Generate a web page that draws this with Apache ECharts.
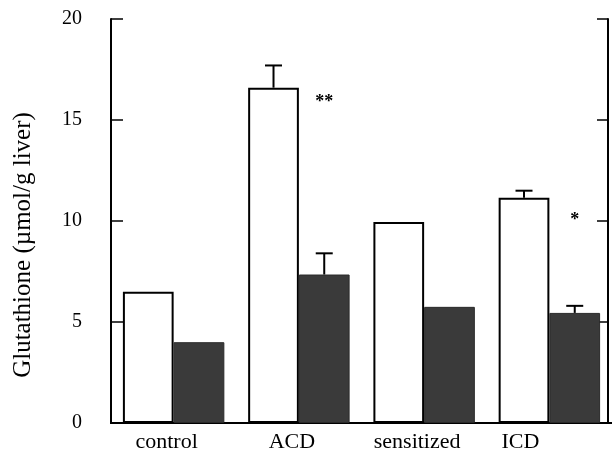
<!DOCTYPE html>
<html>
<head>
<meta charset="utf-8">
<script src="https://cdn.jsdelivr.net/npm/echarts@6/dist/echarts.min.js"></script>
<style>html,body{margin:0;padding:0;background:#fff;}#c{width:612px;height:462px;}</style>
</head>
<body>
<div id="c"></div>
<script>
var categories = ['control', 'ACD', 'sensitized', 'ICD'];
var whiteValues = [6.5, 16.6, 9.95, 11.15];
var darkValues = [4.0, 7.35, 5.75, 5.45];
var whiteErrors = [0, 1.1, 0, 0.35];
var darkErrors = [0, 1.05, 0, 0.35];
var starCategories = ['ACD', 'ICD'];
var starValues = [15.85, 10.05];
var starLabels = ['**', '*'];
var yTicks = [0, 5, 10, 15, 20];
var yTitle = 'Glutathione (\u00b5mol/g liver)';

var FONT = 'Liberation Serif';
var GAP = 0.19;

function errSeries(values, errors, side) {
  var data = [];
  for (var i = 0; i < categories.length; i++) {
    if (errors[i] > 0) data.push([i, values[i], errors[i]]);
  }
  return {
    type: 'custom',
    data: data,
    encode: {x: 0, y: 1},
    z: 5,
    silent: true,
    renderItem: function (params, api) {
      var cat = api.value(0), v = api.value(1), e = api.value(2);
      var band = api.size([1, 0])[0];
      var off = band * (1 - GAP) / 4 * side;
      var b = api.coord([cat, v]);
      var t = api.coord([cat, v + e]);
      var x = b[0] + off;
      return {
        type: 'group',
        children: [
          {type: 'line', shape: {x1: x, y1: b[1], x2: x, y2: t[1]}, style: {stroke: '#000', lineWidth: 2}},
          {type: 'line', shape: {x1: x - 8.5, y1: t[1], x2: x + 8.5, y2: t[1]}, style: {stroke: '#000', lineWidth: 2}}
        ]
      };
    }
  };
}

var starData = starCategories.map(function (c, i) { return [categories.indexOf(c), starValues[i], i]; });

var chart = echarts.init(document.getElementById('c'), null, {renderer: 'canvas'});
chart.setOption({
  animation: false,
  backgroundColor: '#fff',
  grid: {left: 111, right: -2, top: 19, bottom: 39, show: false},
  xAxis: [{
    type: 'category',
    data: categories,
    axisLine: {show: true, lineStyle: {color: '#000', width: 2}},
    axisTick: {show: false},
    axisLabel: {
      interval: 0,
      hideOverlap: false,
      color: '#000', fontFamily: FONT, fontSize: 22, margin: 8,
      formatter: function (v) { return v === 'ICD' ? '{b|' + v + '}' : '{a|' + v + '}'; },
      rich: {
        a: {fontFamily: FONT, fontSize: 22, color: '#000', padding: [0, 14, 0, 0]},
        b: {fontFamily: FONT, fontSize: 22, color: '#000', padding: [0, 58, 0, 0]}
      }
    },
    splitLine: {show: false}
  }, {
    type: 'category',
    position: 'top',
    data: categories,
    axisLine: {show: true, lineStyle: {color: '#000', width: 2}},
    axisTick: {show: false},
    axisLabel: {show: false},
    splitLine: {show: false}
  }],
  yAxis: [{
    type: 'value',
    min: 0, max: 20, interval: 5,
    axisLine: {show: true, lineStyle: {color: '#000', width: 2}},
    axisTick: {show: true, inside: true, length: 12, lineStyle: {color: '#000', width: 1.5}},
    axisLabel: {color: '#000', fontFamily: FONT, fontSize: 20, margin: 29,
      formatter: function (v) { return yTicks.indexOf(v) >= 0 ? String(v) : ''; }},
    splitLine: {show: false}
  }, {
    type: 'value',
    position: 'right',
    offset: -4,
    min: 0, max: 20, interval: 5,
    axisLine: {show: true, lineStyle: {color: '#000', width: 2}},
    axisTick: {show: true, inside: true, length: 11, lineStyle: {color: '#000', width: 1.5}},
    axisLabel: {show: false},
    splitLine: {show: false}
  }],
  graphic: [{
    type: 'text',
    x: 23, y: 245,
    rotation: Math.PI / 2,
    style: {text: yTitle, fill: '#000', font: '25px "Liberation Serif"', textAlign: 'center', textVerticalAlign: 'middle'}
  }],
  series: [{
    type: 'bar',
    data: whiteValues,
    barGap: '0%',
    barCategoryGap: (GAP * 100) + '%',
    itemStyle: {color: '#fff', borderColor: '#000', borderWidth: 2}
  }, {
    type: 'bar',
    data: darkValues,
    barGap: '0%',
    barCategoryGap: (GAP * 100) + '%',
    itemStyle: {color: '#3a3a3a', borderColor: '#2a2a2a', borderWidth: 1}
  },
  errSeries(whiteValues, whiteErrors, -1),
  errSeries(darkValues, darkErrors, 1),
  {
    type: 'custom',
    data: starData,
    encode: {x: 0, y: 1},
    z: 6,
    silent: true,
    renderItem: function (params, api) {
      var p = api.coord([api.value(0), api.value(1)]);
      var band = api.size([1, 0])[0];
      var idx = api.value(2);
      return {
        type: 'text',
        x: p[0] + band * (1 - GAP) / 4,
        y: p[1],
        style: {text: starLabels[idx], fill: '#000', font: 'bold 18px "Liberation Serif"', textAlign: 'center', textVerticalAlign: 'middle'}
      };
    }
  }]
});
</script>
</body>
</html>
